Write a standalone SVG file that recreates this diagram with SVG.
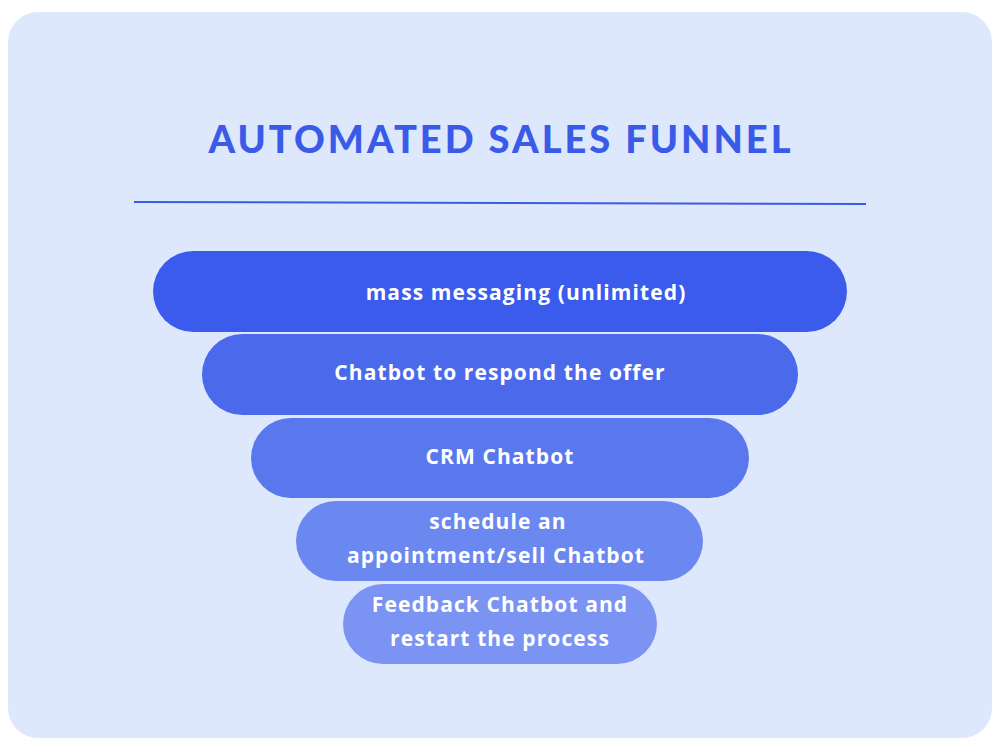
<svg xmlns="http://www.w3.org/2000/svg" width="1000" height="750" viewBox="0 0 1000 750">
<style>
.t{font-family:"Open Sans","Liberation Sans",sans-serif;font-weight:bold;font-size:21px;letter-spacing:1.1px;fill:#ffffff;text-anchor:middle}
</style>
<rect width="1000" height="750" fill="#ffffff"/>
<rect x="8" y="12" width="984" height="726" rx="30" fill="#dee8fc"/>
<text x="501" y="153" text-anchor="middle" font-family="Lato,'Liberation Sans',sans-serif" font-weight="900" font-size="38" letter-spacing="3" fill="#3a5be8">AUTOMATED SALES FUNNEL</text>
<g id="connectors"><line x1="134" y1="202" x2="866" y2="204" stroke="#3a5be8" stroke-width="2"/></g>
<g id="n1"><rect x="153" y="251" width="694" height="81" rx="40.5" fill="#3a5bec"/><text class="t" x="526" y="300">mass messaging (unlimited)</text></g>
<g id="n2"><rect x="202" y="334" width="596" height="81" rx="40.5" fill="#4a6aeb"/><text class="t" x="500" y="380">Chatbot to respond the offer</text></g>
<g id="n3"><rect x="251" y="418" width="498" height="80" rx="40" fill="#5a78ee"/><text class="t" x="500" y="464">CRM Chatbot</text></g>
<g id="n4"><rect x="296" y="501" width="407" height="80" rx="40" fill="#6b87f0"/><text class="t" x="498" y="529">schedule an</text><text class="t" x="496" y="563">appointment/sell Chatbot</text></g>
<g id="n5"><rect x="343" y="584" width="314" height="80" rx="40" fill="#7b93f2"/><text class="t" x="500" y="612">Feedback Chatbot and</text><text class="t" x="500" y="646">restart the process</text></g>
</svg>
